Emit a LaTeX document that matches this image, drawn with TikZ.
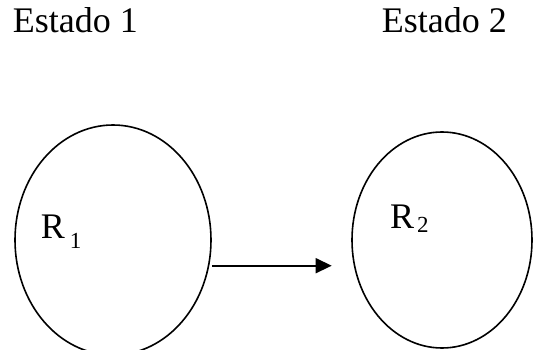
\documentclass[tikz,border=0pt]{standalone}
\usepackage{fontspec}
\setmainfont{Liberation Serif}
\usetikzlibrary{arrows.meta,shapes.geometric}
\begin{document}
\begin{tikzpicture}[x=1pt,y=-1pt,
  region/.style={draw,ellipse,line width=1.6pt,inner sep=0pt},
  title/.style={anchor=base west,inner sep=0pt,font=\fontsize{36}{36}\selectfont},
  rlabel/.style={anchor=base west,inner sep=0pt,font=\fontsize{36}{36}\selectfont},
  conn/.style={line width=1.6pt,-{Triangle[length=16pt,width=15pt]}}]
\clip (0,0) rectangle (533,350);
\useasboundingbox (0,0) rectangle (533,350);
\node[region,minimum width=196pt,minimum height=230pt] (e1) at (113,240) {};
\node[region,minimum width=180pt,minimum height=216pt] (e2) at (442,240) {};
\node[title] (t1) at (12.7,32.7) {Estado 1};
\node[title] (t2) at (381.7,32.7) {Estado 2};
\node[rlabel] (r1) at (40.7,238) {R\kern5pt\raisebox{-10pt}{\fontsize{23}{23}\selectfont 1}};
\node[rlabel] (r2) at (390,228) {R\kern3pt\raisebox{-5pt}{\fontsize{23}{23}\selectfont 2}};
\coordinate (a1) at (212,265.7);
\coordinate (a2) at (331.7,265.7);
\draw[conn] (a1) -- (a2);
\end{tikzpicture}
\end{document}
